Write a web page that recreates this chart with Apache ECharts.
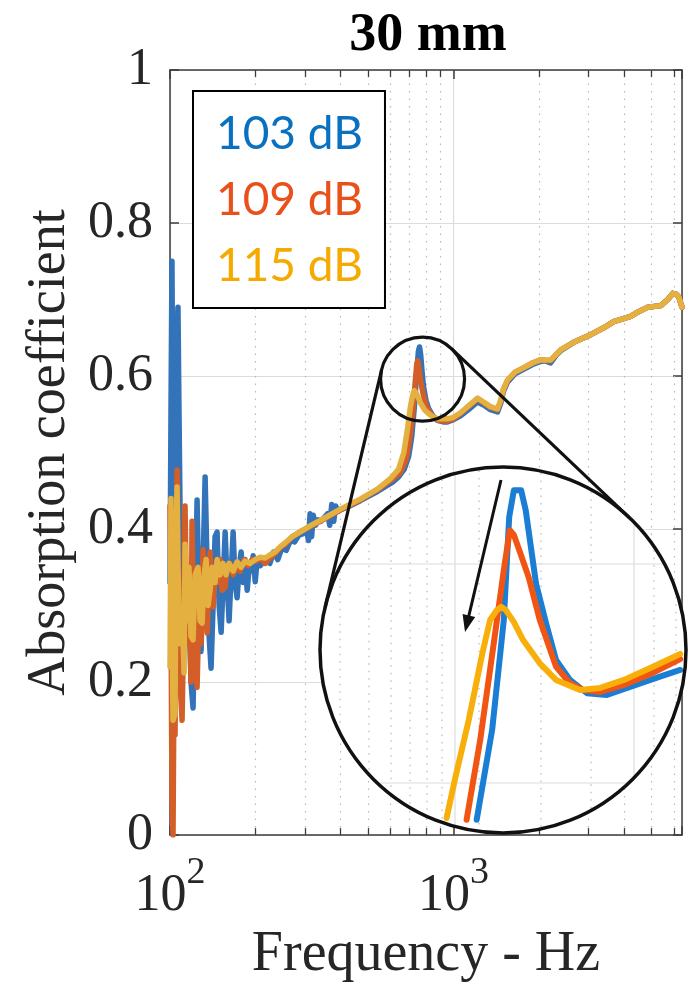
<!DOCTYPE html>
<html><head><meta charset="utf-8">
<script src="https://cdn.jsdelivr.net/npm/echarts/dist/echarts.min.js"></script>
<style>html,body{margin:0;padding:0;background:#fff}#c{width:692px;height:996px}</style>
</head><body><div id="c"></div>
<script>
// ---------- data ----------
const chartTitle = '30 mm';
const seriesNames = ['103 dB', '109 dB', '115 dB'];
const xAxisName = 'Frequency - Hz';
const yAxisName = 'Absorption coefficient';
const minorFreqs = [200, 300, 400, 500, 600, 700, 800, 900, 2000, 3000, 4000, 5000, 6000];
const zoomCenter = [778, 0.596];

const blue103 = [
  [100,0.33],[100.8,0.55],[101.6,0.75],[102.5,0.50],[103.3,0.28],[104.2,0.35],[105.0,0.62],[106.7,0.69],[107.6,0.55],
  [109.4,0.30],[111.2,0.22],[113.0,0.36],[114.8,0.25],[116.7,0.30],[118.6,0.20],[120.6,0.166],[122.6,0.30],[124.6,0.438],
  [126.6,0.30],[128.7,0.24],[130.8,0.35],[133.0,0.468],[135.2,0.35],[137.4,0.26],[139.6,0.218],[141.9,0.30],[144.2,0.39],
  [146.6,0.396],[149.0,0.30],[151.5,0.265],[153.9,0.33],[156.5,0.396],[159.0,0.33],[161.6,0.28],[164.3,0.34],[167.0,0.396],
  [169.7,0.33],[172.5,0.31],[175.4,0.35],[178.2,0.37],[181.2,0.33],[184.1,0.36],[187.2,0.32],[190.2,0.35],[193.4,0.345],
  [196.5,0.365],[199.8,0.331],[203.0,0.36],[208.0,0.352],
  [216.6,0.36],[225,0.355],[232,0.37],[240,0.36],[248,0.375],[257,0.372],[266,0.385],[275,0.383],[285,0.392],[295,0.394],
  [303,0.40],[308,0.385],[312,0.42],[316,0.39],[320,0.418],[326,0.405],[333,0.412],[340,0.41],[350,0.415],[360,0.42],
  [366,0.405],[372,0.432],[378,0.41],[384,0.43],[392,0.423],[399,0.425],[430,0.43],[469,0.437],[539,0.449],[590,0.458],
  [614,0.462],[640,0.468],[670,0.478],[695,0.495],[712,0.52],[728,0.56],[742,0.605],[752,0.632],[759,0.638],[766,0.628],
  [775,0.605],[784,0.586],[800,0.568],[816,0.558],[845,0.548],[878,0.542],[920,0.540],[952,0.540],[1000,0.543],[1059,0.548],
  [1130,0.556],[1216,0.566],[1277,0.562],[1350,0.556],[1430,0.553],[1470,0.565],[1500,0.58],[1551,0.592],[1650,0.603],
  [1753,0.608],[1900,0.615],[2029,0.619],[2100,0.620],[2201,0.617],[2300,0.627],[2388,0.633],[2655,0.644],[3048,0.654],
  [3389,0.663],[3675,0.671],[4218,0.678],[4500,0.684],[4850,0.690],[5387,0.692],[5700,0.70],[5938,0.708],[6100,0.707],
  [6237,0.703],[6400,0.69]
];
const orange109 = [
  [100,0.43],[100.8,0.30],[101.6,0.05],[102.5,0.0],[103.3,0.20],[104.2,0.131],[105.0,0.35],[105.9,0.477],[106.7,0.40],
  [108.5,0.20],[110.3,0.15],[112.1,0.30],[113.0,0.43],[114.8,0.25],[116.7,0.33],[118.6,0.20],[119.6,0.41],[121.6,0.25],
  [124.6,0.193],[126.6,0.30],[128.7,0.25],[130.8,0.373],[133.0,0.30],[135.2,0.264],[137.4,0.33],[138.5,0.37],[140.8,0.31],
  [141.9,0.298],[144.2,0.34],[146.6,0.33],[150.2,0.36],[152.7,0.32],[156.5,0.324],[159.0,0.35],[163.0,0.355],[167.0,0.34],
  [171.1,0.35],[176.8,0.345],[182.6,0.36],[188.7,0.352],[194.9,0.36],[201.4,0.358],[208.0,0.362],
  [216.6,0.355],[225,0.362],[235,0.368],[245,0.376],[255,0.38],[270,0.39],[290,0.397],[312,0.403],[350,0.413],[399,0.425],
  [469,0.438],[539,0.451],[614,0.466],[650,0.474],[680,0.49],[700,0.515],[718,0.55],[732,0.59],[742,0.615],[748,0.62],
  [756,0.61],[765,0.595],[780,0.578],[800,0.562],[816,0.555],[850,0.546],[878,0.542],[952,0.541],[1000,0.544],[1059,0.551],
  [1130,0.56],[1216,0.57],[1277,0.565],[1350,0.559],[1430,0.556],[1470,0.568],[1500,0.582],[1551,0.594],[1650,0.605],
  [1753,0.61],[1900,0.617],[2029,0.621],[2201,0.62],[2300,0.628],[2388,0.634],[2655,0.644],[3048,0.654],[3389,0.663],
  [3675,0.671],[4218,0.678],[4500,0.684],[4850,0.690],[5387,0.692],[5700,0.70],[5938,0.708],[6100,0.707],[6237,0.703],[6400,0.69]
];
const yellow115 = [
  [100,0.22],[100.8,0.44],[101.6,0.30],[102.5,0.15],[104.2,0.159],[105.0,0.38],[105.9,0.455],[106.7,0.35],[108.5,0.25],
  [110.3,0.30],[112.1,0.212],[113.0,0.38],[114.8,0.28],[116.7,0.35],[118.6,0.26],[120.6,0.255],[122.6,0.34],[125.6,0.35],
  [127.7,0.28],[129.8,0.277],[131.9,0.34],[134.1,0.36],[136.3,0.30],[138.5,0.32],[140.8,0.35],[144.2,0.33],[146.6,0.36],
  [150.2,0.34],[153.9,0.355],[157.7,0.34],[161.6,0.355],[167.0,0.345],[172.5,0.357],[178.2,0.35],[184.1,0.358],[191.8,0.355],
  [199.8,0.36],[208.0,0.363],
  [216.6,0.362],[225,0.366],[235,0.37],[245,0.377],[255,0.382],[270,0.39],[290,0.397],[312,0.404],[350,0.414],[399,0.426],
  [469,0.439],[539,0.452],[600,0.466],[640,0.478],[668,0.50],[688,0.53],[705,0.56],[718,0.575],[728,0.581],[738,0.578],
  [750,0.572],[765,0.565],[790,0.556],[816,0.551],[850,0.546],[878,0.544],[952,0.544],[1000,0.546],[1059,0.552],[1130,0.561],
  [1216,0.571],[1277,0.566],[1350,0.56],[1430,0.557],[1470,0.569],[1500,0.583],[1551,0.595],[1650,0.605],[1753,0.61],
  [1900,0.617],[2029,0.621],[2201,0.621],[2300,0.628],[2388,0.634],[2655,0.644],[3048,0.654],[3389,0.663],[3675,0.671],
  [4218,0.678],[4500,0.684],[4850,0.690],[5387,0.692],[5700,0.70],[5938,0.708],[6100,0.707],[6237,0.703],[6400,0.69]
];
// zoomed inset (magnified peak region)
const blueZoom = [[740,0.544],[762,0.571],[779,0.604],[787,0.635],[794,0.643],[805,0.643],[812,0.637],[828,0.615],[844,0.603],
  [860,0.592],[883,0.586],[912,0.582],[947,0.5815],[1010,0.585],[1047,0.587],[1088,0.589]];
const orangeZoom = [[726,0.544],[745,0.568],[765,0.598],[779,0.619],[788,0.631],[794,0.6296],[803,0.6245],[817,0.6166],[834,0.604],
  [860,0.590],[883,0.585],[905,0.583],[935,0.5824],[978,0.5845],[1028,0.5878],[1088,0.5923]];
const yellowZoom = [[699,0.5445],[710,0.556],[729,0.574],[748,0.594],[759,0.604],[769,0.607],[775,0.608],[782,0.607],[794,0.6034],
  [808,0.598],[834,0.591],[860,0.586],[900,0.583],[935,0.5836],[978,0.586],[1028,0.5896],[1088,0.5938]];

// ---------- style ----------
const SERIF = '"Liberation Serif","Times New Roman",serif';
const SANS = 'Lato,"Open Sans","Liberation Sans",sans-serif';
const lineColors = ['#3273b9', '#d35e28', '#e4b040'];
const zoomColors = ['#1a7ed4', '#f05514', '#f9af0a'];
const legendColors = ['#0a70c0', '#e9501a', '#f5aa00'];
const axisColor = '#3c3c3c';
const textColor = '#262626';
const insetRect = { left: 320, top: 467, width: 366, height: 366 };

const chart = echarts.init(document.getElementById('c'), null, { renderer: 'canvas' });

function xLabel(v) {
  const e = Math.log10(v);
  if (Math.abs(e - Math.round(e)) > 1e-6) return '';
  return '{b|10}{s|' + Math.round(e) + '}';
}

const tickSegs = [];
minorFreqs.forEach(f => {
  tickSegs.push([{ coord: [f, 0] }, { coord: [f, 0.009] }]);
  tickSegs.push([{ coord: [f, 1] }, { coord: [f, 0.991] }]);
});

function mainSeries(i, data) {
  const s = {
    name: seriesNames[i], type: 'line', xAxisIndex: 0, yAxisIndex: 0, data: data,
    symbol: 'none', showSymbol: false, silent: true, z: 3,
    lineStyle: { color: lineColors[i], width: 5.5, join: 'round', cap: 'round' },
    itemStyle: { color: lineColors[i] },
    emphasis: { disabled: true }
  };
  if (i === 0) {
    s.markLine = {
      silent: true, symbol: 'none', z: 1, animation: false,
      label: { show: false },
      emphasis: { disabled: true },
      lineStyle: { color: '#b8b8b8', width: 1.2, type: [1.5, 6] },
      data: minorFreqs.map(f => ({ xAxis: f }))
    };
  }
  return s;
}
function zoomSeries(i, data) {
  return {
    name: seriesNames[i], type: 'line', xAxisIndex: 2, yAxisIndex: 2, data: data,
    symbol: 'none', showSymbol: false, silent: true, z: 20, clip: false,
    lineStyle: { color: zoomColors[i], width: 6, join: 'round', cap: 'round' },
    itemStyle: { color: zoomColors[i] },
    emphasis: { disabled: true }
  };
}

const tickHelper = {
  type: 'line', xAxisIndex: 0, yAxisIndex: 0, data: [], silent: true, symbol: 'none',
  markLine: {
    silent: true, symbol: 'none', z: 6, animation: false,
    label: { show: false }, emphasis: { disabled: true },
    lineStyle: { color: axisColor, width: 1.3, type: 'solid' },
    data: tickSegs
  }
};

const option = {
  animation: false,
  backgroundColor: '#ffffff',
  title: {
    text: chartTitle, left: 423, top: 4, textAlign: 'center',
    textStyle: { fontFamily: SERIF, fontWeight: 'bold', fontSize: 54, color: '#000' }
  },
  legend: {
    orient: 'vertical', left: 193, top: 91, z: 30,
    data: seriesNames.map((n, i) => ({ name: n, textStyle: { color: legendColors[i] } })),
    itemWidth: 0, itemHeight: 0, itemGap: 16, icon: 'rect',
    selectedMode: false,
    padding: [18, 22, 17, 18],
    borderColor: '#000', borderWidth: 2, backgroundColor: '#fff',
    textStyle: { fontFamily: SANS, fontSize: 46, lineHeight: 50 }
  },
  grid: [
    { left: 170, top: 70, right: 10, bottom: 161, containLabel: false, outerBoundsMode: 'none' },
    { left: insetRect.left, top: insetRect.top, width: insetRect.width, height: insetRect.height, containLabel: false, outerBoundsMode: 'none' }
  ],
  xAxis: [
    {
      type: 'log', logBase: 10, gridIndex: 0, min: 100, max: 6400,
      axisLine: { show: true, onZero: false, lineStyle: { color: axisColor, width: 1.5 } },
      axisTick: { show: true, inside: true, length: 9, lineStyle: { color: axisColor, width: 1.5 } },
      axisLabel: {
        show: true, margin: 19, formatter: xLabel, color: textColor,
        rich: {
          b: { fontFamily: SERIF, fontSize: 52, lineHeight: 84, color: textColor },
          s: { fontFamily: SERIF, fontSize: 38, lineHeight: 38, verticalAlign: 'top', color: textColor }
        }
      },
      splitLine: { show: true, lineStyle: { color: '#dcdcdc', width: 1.2 } },
      name: xAxisName, nameLocation: 'middle', nameGap: 92,
      nameTextStyle: { fontFamily: SERIF, fontSize: 56, color: textColor }
    },
    {
      type: 'log', logBase: 10, gridIndex: 0, position: 'top', min: 100, max: 6400,
      axisLine: { show: true, onZero: false, lineStyle: { color: axisColor, width: 1.5 } },
      axisTick: { show: true, inside: true, length: 9, lineStyle: { color: axisColor, width: 1.5 } },
      axisLabel: { show: false }, splitLine: { show: false }
    },
    { type: 'log', logBase: 10, gridIndex: 2 - 1, min: 550, max: 1100, show: false, splitLine: { show: false } }
  ],
  yAxis: [
    {
      type: 'value', gridIndex: 0, min: 0, max: 1, interval: 0.2,
      axisLine: { show: true, onZero: false, lineStyle: { color: axisColor, width: 1.5 } },
      axisTick: { show: true, inside: true, length: 9, lineStyle: { color: axisColor, width: 1.5 } },
      axisLabel: { show: true, margin: 17, color: textColor, fontFamily: SERIF, fontSize: 52 },
      splitLine: { show: true, lineStyle: { color: '#dcdcdc', width: 1.2 } },
      name: yAxisName, nameLocation: 'middle', nameGap: 88, nameRotate: 90,
      nameTextStyle: { fontFamily: SERIF, fontSize: 54, color: textColor }
    },
    {
      type: 'value', gridIndex: 0, position: 'right', min: 0, max: 1, interval: 0.2,
      axisLine: { show: true, onZero: false, lineStyle: { color: axisColor, width: 1.5 } },
      axisTick: { show: true, inside: true, length: 9, lineStyle: { color: axisColor, width: 1.5 } },
      axisLabel: { show: false }, splitLine: { show: false }
    },
    { type: 'value', gridIndex: 1, min: 0.54, max: 0.65, show: false, splitLine: { show: false } }
  ],
  series: [
    mainSeries(0, blue103), mainSeries(1, orange109), mainSeries(2, yellow115),
    tickHelper,
    zoomSeries(0, blueZoom), zoomSeries(1, orangeZoom), zoomSeries(2, yellowZoom)
  ]
};
chart.setOption(option);

// ---------- magnifier annotation ----------
const c1 = chart.convertToPixel({ xAxisIndex: 0, yAxisIndex: 0 }, zoomCenter);
const r1 = 42;
const c2 = [insetRect.left + insetRect.width / 2, insetRect.top + insetRect.height / 2];
const r2 = insetRect.width / 2;
const g = [];
g.push({ type: 'circle', shape: { cx: c2[0], cy: c2[1], r: r2 }, style: { fill: '#fff', stroke: null }, z: 10, silent: true });
function vChord(x, solid) {
  const h = Math.sqrt(Math.max(0, (r2 - 2) * (r2 - 2) - (x - c2[0]) * (x - c2[0])));
  g.push({ type: 'line', shape: { x1: x, y1: c2[1] - h, x2: x, y2: c2[1] + h },
    style: { stroke: solid ? '#dcdcdc' : '#b8b8b8', lineWidth: 1.2, lineDash: solid ? null : [1.5, 6] }, z: 11, silent: true });
}
function hChord(y) {
  const w = Math.sqrt(Math.max(0, (r2 - 2) * (r2 - 2) - (y - c2[1]) * (y - c2[1])));
  g.push({ type: 'line', shape: { x1: c2[0] - w, y1: y, x2: c2[0] + w, y2: y },
    style: { stroke: '#dcdcdc', lineWidth: 1.2 }, z: 11, silent: true });
}
[340, 369, 391, 410, 427, 442, 479, 541, 591, 654, 676].forEach(x => vChord(x, false));
[455, 634].forEach(x => vChord(x, true));
[564, 783].forEach(y => hChord(y));
g.push({ type: 'circle', shape: { cx: c2[0], cy: c2[1], r: r2 }, style: { fill: 'none', stroke: '#111', lineWidth: 3.5 }, z: 25, silent: true });
g.push({ type: 'circle', shape: { cx: c1[0], cy: c1[1], r: r1 }, style: { fill: 'none', stroke: '#111', lineWidth: 3.2 }, z: 25, silent: true });
// external tangent lines
const dx = c2[0] - c1[0], dy = c2[1] - c1[1], d = Math.hypot(dx, dy);
const base = Math.atan2(dy, dx), phi = Math.acos((r1 - r2) / d);
[1, -1].forEach(sg => {
  const a = base + sg * phi, nx = Math.cos(a), ny = Math.sin(a);
  g.push({ type: 'line', shape: { x1: c1[0] + r1 * nx, y1: c1[1] + r1 * ny, x2: c2[0] + r2 * nx, y2: c2[1] + r2 * ny },
    style: { stroke: '#111', lineWidth: 3.2 }, z: 25, silent: true });
});
// arrow inside the inset
const a0 = [501, 480], a1 = [465, 632];
const ax = a1[0] - a0[0], ay = a1[1] - a0[1], al = Math.hypot(ax, ay);
const ux = ax / al, uy = ay / al, hl = 17, hw = 6.5;
const bx = a1[0] - ux * hl, by = a1[1] - uy * hl;
g.push({ type: 'line', shape: { x1: a0[0], y1: a0[1], x2: bx + ux * 2, y2: by + uy * 2 }, style: { stroke: '#111', lineWidth: 3 }, z: 26, silent: true });
g.push({ type: 'polygon', shape: { points: [a1, [bx - uy * hw, by + ux * hw], [bx + uy * hw, by - ux * hw]] }, style: { fill: '#111' }, z: 26, silent: true });
chart.setOption({ graphic: { elements: g } });
</script></body></html>
